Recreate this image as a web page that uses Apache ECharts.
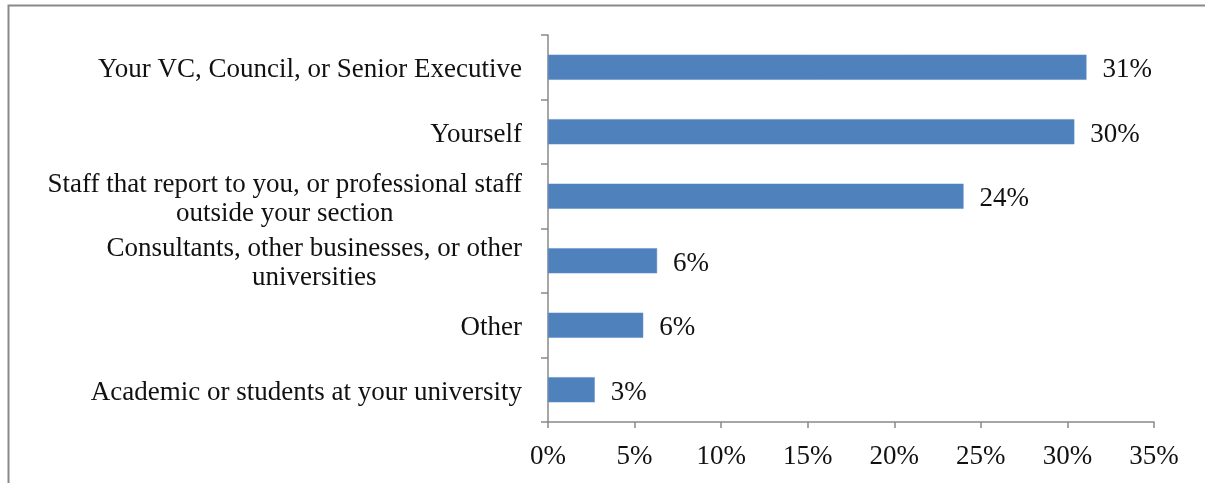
<!DOCTYPE html>
<html>
<head>
<meta charset="utf-8">
<script src="https://cdn.jsdelivr.net/npm/echarts@6/dist/echarts.min.js"></script>
<style>
  html, body { margin: 0; padding: 0; background: #ffffff; }
  #chart { width: 1205px; height: 483px; }
</style>
</head>
<body>
<div id="chart"></div>
<script>
// Response categories, listed bottom to top as the category axis draws them
const categories = [
  'Academic or students at your university',
  'Other',
  'Consultants, other businesses, or other\nuniversities',
  'Staff that report to you, or professional staff\noutside your section',
  'Yourself',
  'Your VC, Council, or Senior Executive'
];

// Share of responses (%)
const shares = [2.7, 5.5, 6.3, 24.0, 30.4, 31.1];

// Value axis tick settings (%)
const axisMin = 0;
const axisMax = 35;
const axisStep = 5;

const FONT = 'Liberation Serif';
const FS = 27;
const chart = echarts.init(document.getElementById('chart'), null, { renderer: 'canvas' });

chart.setOption({
  backgroundColor: '#ffffff',
  animation: false,
  graphic: [
    {
      type: 'polyline',
      silent: true,
      shape: { points: [[8.5, 483], [8.5, 5.5], [1205, 5.5]] },
      style: { stroke: '#898989', lineWidth: 2, fill: null }
    }
  ],
  grid: { left: 548, right: 51, top: 35, bottom: 61, containLabel: false },
  xAxis: {
    type: 'value',
    min: axisMin,
    max: axisMax,
    interval: axisStep,
    splitLine: { show: false },
    axisLine: { show: true, lineStyle: { color: '#898989', width: 1.5 } },
    axisTick: { show: true, length: 6, lineStyle: { color: '#898989', width: 1.5 } },
    axisLabel: {
      margin: 21,
      color: '#111111',
      fontFamily: FONT,
      fontSize: FS,
      formatter: v => v + '%'
    }
  },
  yAxis: {
    type: 'category',
    data: categories,
    axisLine: { show: true, lineStyle: { color: '#898989', width: 1.5 } },
    axisTick: { show: true, length: 7, lineStyle: { color: '#898989', width: 1.5 } },
    axisLabel: {
      margin: 26,
      color: '#111111',
      fontFamily: FONT,
      fontSize: FS,
      lineHeight: 29,
      align: 'right',
      formatter: v => v.split('\n').map(s => '{c|' + s + '}').join('\n'),
      rich: {
        c: { align: 'center', fontFamily: FONT, fontSize: FS, color: '#111111', lineHeight: 29, padding: [6, 0, 0, 0] }
      }
    }
  },
  series: [
    {
      type: 'bar',
      data: shares,
      barCategoryGap: '61%',
      itemStyle: { color: '#4f81bd', borderColor: '#5b8cc6', borderWidth: 0.5 },
      label: {
        show: true,
        position: 'right',
        distance: 16,
        offset: [0, 3],
        color: '#111111',
        fontFamily: FONT,
        fontSize: FS,
        formatter: p => Math.round(p.value) + '%'
      }
    }
  ]
});
</script>
</body>
</html>
